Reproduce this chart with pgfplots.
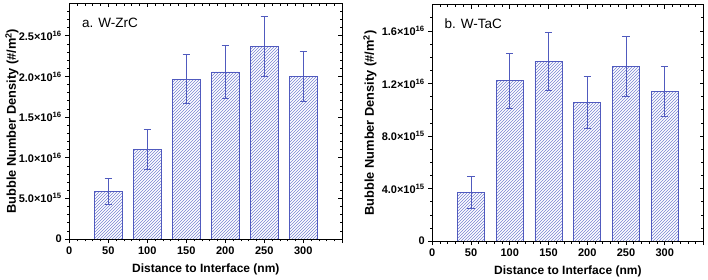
\documentclass[border=0pt]{standalone}
\usepackage{fontspec}
\setmainfont{Liberation Sans}
\usepackage{pgfplots}
\pgfplotsset{compat=1.18}
\usepackage{pgfplotstable}
\usetikzlibrary{patterns}
\definecolor{barblue}{RGB}{80,90,190}
\definecolor{hatchblue}{RGB}{120,130,210}

\pgfplotstableread{
x y e
50 5.85e15 1.55e15
100 1.10e16 2.5e15
150 1.965e16 3.0e15
200 2.055e16 3.3e15
250 2.365e16 3.7e15
300 2.00e16 3.1e15
}\zrc
\pgfplotstableread{
x y e
50 3.7e15 1.2e15
100 1.22e16 2.1e15
150 1.37e16 2.2e15
200 1.055e16 2.0e15
250 1.33e16 2.25e15
300 1.14e16 1.9e15
}\tac

\pgfplotsset{
  common/.style={
    scale only axis,
    xmin=0, xmax=350,
    ymin=0,
    axis line style={line width=0.9pt},
    every tick/.style={black, line width=0.7pt},
    major tick length=4pt,
    minor tick length=2.3pt,
    xtick={0,50,100,150,200,250,300,350},
    minor xtick={10,20,30,40,60,70,80,90,110,120,130,140,160,170,180,190,210,220,230,240,260,270,280,290,310,320,330,340},
    scaled y ticks=false,
  },
  main/.style={
    common,
    tick align=outside,
    xtick pos=left, ytick pos=left,
    xticklabels={\textbf{0},\textbf{50},\textbf{100},\textbf{150},\textbf{200},\textbf{250},\textbf{300},},
    tick label style={font=\fontsize{11}{12}\selectfont\bfseries},
    xlabel={Distance to Interface (nm)},
    ylabel={Bubble Number Density (\#/m\textsuperscript{2})},
    xlabel style={font=\fontsize{12}{14}\selectfont\bfseries, at={(axis description cs:0.5,0)}, anchor=base, yshift=-33pt},
  },
  mirror/.style={
    common,
    tick align=inside,
    xtick pos=right, ytick pos=right,
    xticklabels={}, yticklabels={},
  },
  bars/.style={
    ybar, bar width=35,
    draw=barblue, line width=0.9pt,
    pattern=north east lines, pattern color=hatchblue,
    error bars/.cd, y dir=both, y explicit,
    error bar style={line width=0.9pt, barblue},
    error mark options={rotate=90, mark size=3.6pt, line width=0.9pt, barblue},
  },
}

\begin{document}
\begin{tikzpicture}
\path[use as bounding box] (0,0) rectangle (708pt,279pt);

% Left panel
\begin{axis}[main,
  at={(69.3pt,40pt)}, anchor=south west,
  width=273pt, height=235.7pt,
  ymax=2.9e16,
  ytick={0,5e15,1e16,1.5e16,2e16,2.5e16},
  yticklabels={\textbf{0},\textbf{5.0×10\textsuperscript{15}},\textbf{1.0×10\textsuperscript{16}},\textbf{1.5×10\textsuperscript{16}},\textbf{2.0×10\textsuperscript{16}},\textbf{2.5×10\textsuperscript{16}}},
  minor ytick={1e15,2e15,3e15,4e15,6e15,7e15,8e15,9e15,1.1e16,1.2e16,1.3e16,1.4e16,1.6e16,1.7e16,1.8e16,1.9e16,2.1e16,2.2e16,2.3e16,2.4e16,2.6e16,2.7e16,2.8e16},
  ylabel style={font=\fontsize{12.8}{14}\selectfont\bfseries, at={(axis description cs:-0.21,0.5)}, anchor=center},
]
\addplot[bars] table[x=x, y=y, y error=e] {\zrc};
\node[anchor=base west, font=\fontsize{13.5}{15}\selectfont, xshift=9.2pt, yshift=-24.4pt] at (rel axis cs:0,1) {a. W-ZrC};
\end{axis}
\begin{axis}[mirror,
  at={(69.3pt,40pt)}, anchor=south west,
  width=273pt, height=235.7pt,
  ymax=2.9e16,
  ytick={0,5e15,1e16,1.5e16,2e16,2.5e16},
  minor ytick={1e15,2e15,3e15,4e15,6e15,7e15,8e15,9e15,1.1e16,1.2e16,1.3e16,1.4e16,1.6e16,1.7e16,1.8e16,1.9e16,2.1e16,2.2e16,2.3e16,2.4e16,2.6e16,2.7e16,2.8e16},
]
\end{axis}

% Right panel
\begin{axis}[main,
  at={(432.3pt,37.8pt)}, anchor=south west,
  width=271.2pt, height=236.5pt,
  ymax=1.8e16,
  ytick={0,4e15,8e15,1.2e16,1.6e16},
  yticklabels={\textbf{0},\textbf{4.0×10\textsuperscript{15}},\textbf{8.0×10\textsuperscript{15}},\textbf{1.2×10\textsuperscript{16}},\textbf{1.6×10\textsuperscript{16}}},
  minor ytick={1e15,2e15,3e15,5e15,6e15,7e15,9e15,1e16,1.1e16,1.3e16,1.4e16,1.5e16,1.7e16},
  ylabel style={font=\fontsize{12.8}{14}\selectfont\bfseries, at={(axis description cs:-0.23,0.5)}, anchor=center},
]
\addplot[bars] table[x=x, y=y, y error=e] {\tac};
\node[anchor=base west, font=\fontsize{13.5}{15}\selectfont, xshift=8.7pt, yshift=-24.3pt] at (rel axis cs:0,1) {b. W-TaC};
\end{axis}
\begin{axis}[mirror,
  at={(432.3pt,37.8pt)}, anchor=south west,
  width=271.2pt, height=236.5pt,
  ymax=1.8e16,
  ytick={0,4e15,8e15,1.2e16,1.6e16},
  minor ytick={1e15,2e15,3e15,5e15,6e15,7e15,9e15,1e16,1.1e16,1.3e16,1.4e16,1.5e16,1.7e16},
]
\end{axis}
\end{tikzpicture}
\end{document}
